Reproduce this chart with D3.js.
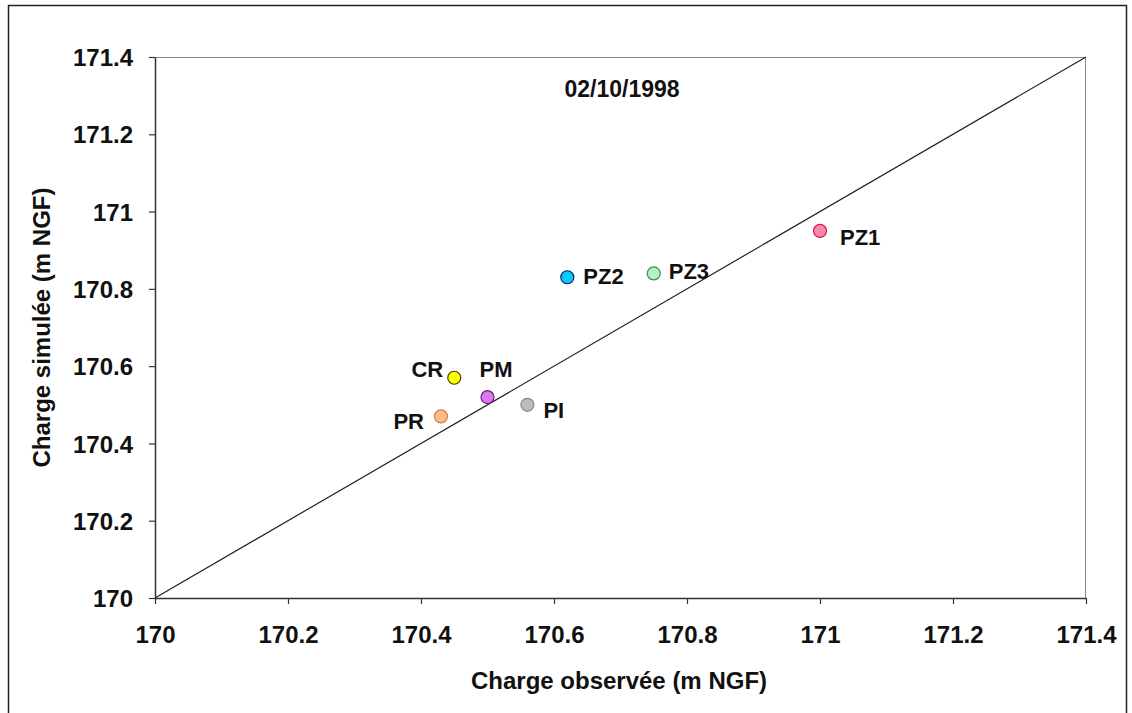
<!DOCTYPE html>
<html>
<head>
<meta charset="utf-8">
<script src="https://cdn.jsdelivr.net/npm/d3@7/dist/d3.min.js"></script>
<style>
  html, body { margin: 0; padding: 0; background: #fff; }
  svg { display: block; font-family: Arial, "Liberation Sans", sans-serif; }
</style>
</head>
<body>
<svg id="chart" width="1132" height="713"></svg>
<script>
// Observation wells: name, observed head, simulated head (m NGF)
const wells = ["PZ1", "PZ2", "PZ3", "CR", "PM", "PR", "PI"];
const observed = [171.00, 170.62, 170.75, 170.45, 170.50, 170.43, 170.56];
const simulated = [170.95, 170.83, 170.84, 170.57, 170.52, 170.47, 170.50];
const fills = ["#ff88aa", "#00ccff", "#b8eec4", "#ffff00", "#dd77ee", "#ffbb88", "#bbbbbb"];
const strokes = ["#d02050", "#102060", "#309050", "#404000", "#702080", "#d08050", "#888888"];
// label placement relative to the marker: [dx, baseline dy, text-anchor]
const labelPos = [[20, 14, "start"], [16, 7, "start"], [15, 6, "start"], [-11, -1, "end"],
                  [-8, -20, "start"], [-17, 13, "end"], [16, 13, "start"]];
const xTicks = [170, 170.2, 170.4, 170.6, 170.8, 171, 171.2, 171.4];
const yTicks = [170, 170.2, 170.4, 170.6, 170.8, 171, 171.2, 171.4];
const dateLabel = "02/10/1998";

const svg = d3.select("#chart");
const m = { left: 155, top: 57, right: 1086, bottom: 598 };

// outer frame (open at the bottom)
svg.append("path")
  .attr("d", "M8.5,713 V5.5 H1126.5 V713")
  .attr("fill", "none").attr("stroke", "#222").attr("stroke-width", 1.5);

const x = d3.scaleLinear().domain([170, 171.4]).range([m.left, m.right]);
const y = d3.scaleLinear().domain([170, 171.4]).range([m.bottom, m.top]);

// plot area box (top/right in grey)
svg.append("path")
  .attr("d", `M${m.left},${m.top + 0.5} H${m.right - 0.5} V${m.bottom}`)
  .attr("fill", "none").attr("stroke", "#888").attr("stroke-width", 1);

const fmt = d => (Math.round(d * 10) / 10).toString();

const xAxis = svg.append("g")
  .attr("transform", `translate(0,${m.bottom})`)
  .call(d3.axisBottom(x).tickValues(xTicks).tickFormat(fmt).tickSize(6).tickSizeOuter(0).tickPadding(22));
const yAxis = svg.append("g")
  .attr("transform", `translate(${m.left},0)`)
  .call(d3.axisLeft(y).tickValues(yTicks).tickFormat(fmt).tickSize(6).tickSizeOuter(0).tickPadding(16));

[xAxis, yAxis].forEach(a => {
  a.selectAll("path.domain").attr("stroke", "#333").attr("stroke-width", 1.5);
  a.selectAll(".tick line").attr("stroke", "#333").attr("stroke-width", 1.2);
  a.selectAll("text").attr("font-size", 24).attr("font-weight", "bold")
    .attr("font-family", "Arial, 'Liberation Sans', sans-serif").attr("fill", "#111");
});
yAxis.selectAll("text").attr("dy", "0.36em");

// 1:1 line
svg.append("line")
  .attr("x1", x(170)).attr("y1", y(170))
  .attr("x2", x(171.4)).attr("y2", y(171.4))
  .attr("stroke", "#222").attr("stroke-width", 1.2);

// axis titles
svg.append("text")
  .attr("x", 619).attr("y", 689)
  .attr("text-anchor", "middle").attr("font-size", 24).attr("font-weight", "bold").attr("fill", "#111")
  .text("Charge observée (m NGF)");
svg.append("text")
  .attr("transform", `translate(50,${(m.top + m.bottom) / 2}) rotate(-90)`)
  .attr("text-anchor", "middle").attr("font-size", 24).attr("font-weight", "bold").attr("fill", "#111")
  .text("Charge simulée (m NGF)");

// date
svg.append("text")
  .attr("x", 622).attr("y", 97)
  .attr("text-anchor", "middle").attr("font-size", 23).attr("font-weight", "bold").attr("fill", "#111")
  .text(dateLabel);

// points and labels
const pts = svg.append("g");
wells.forEach((w, i) => {
  const cx = x(observed[i]), cy = y(simulated[i]);
  pts.append("circle")
    .attr("cx", cx).attr("cy", cy).attr("r", 6.5)
    .attr("fill", fills[i]).attr("stroke", strokes[i]).attr("stroke-width", 1.2);
  const [dx, dy, anchor] = labelPos[i];
  pts.append("text")
    .attr("x", cx + dx).attr("y", cy + dy)
    .attr("text-anchor", anchor)
    .attr("font-size", 22).attr("font-weight", "bold").attr("fill", "#111")
    .text(w);
});
</script>
</body>
</html>
